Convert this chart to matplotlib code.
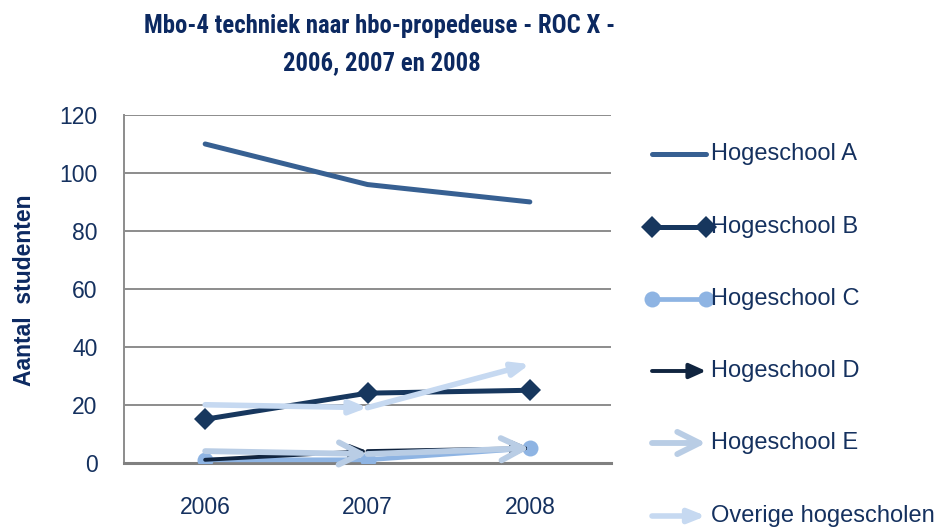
import matplotlib
matplotlib.use("Agg")
import matplotlib.pyplot as plt

# ---- data ----
years = ["2006", "2007", "2008"]
series_names = ["Hogeschool A", "Hogeschool B", "Hogeschool C",
                "Hogeschool D", "Hogeschool E", "Overige hogescholen"]
hs_a = [110, 96, 90]
hs_b = [15, 24, 25]
hs_c = [1, 1, 5]
hs_d = [1, 4, 5]
hs_e = [4, 3, 5]
overig = [20, 19, 34]
yticks = [0, 20, 40, 60, 80, 100, 120]

title1 = "Mbo-4 techniek naar hbo-propedeuse - ROC X -"
title2 = "2006, 2007 en 2008"
ylabel = "Aantal  studenten"

# ---- style ----
c_a = "#376092"
c_b = "#17375E"
c_c = "#8EB4E3"
c_d = "#10243F"
c_e = "#B9CDE5"
c_o = "#C6D9F1"
txt = "#15315F"
title_col = "#0C2961"
grid = "#8C8C8C"

plt.rcParams['font.family'] = ['Liberation Sans', 'DejaVu Sans']
title_family = ['Roboto Condensed', 'Barlow Condensed', 'DejaVu Sans']

W, H = 944, 530
fig = plt.figure(figsize=(W / 100, H / 100), dpi=100)
ax = fig.add_axes([124 / W, 1 - 462.7 / H, (611 - 124) / W, (462.7 - 115) / H])

x = list(range(len(years)))

lw_a, lw_b, lw_c, lw_d, lw_e, lw_o = 3.6, 3.6, 3.4, 2.8, 4.2, 4.0
d_style = "-|>,head_length=10,head_width=4.5"
e_style = "->,head_length=16,head_width=8"
o_style = "-|>,head_length=10,head_width=4"

ax.plot(x, hs_a, color=c_a, lw=lw_a, solid_capstyle='round', zorder=3)
ax.plot(x, hs_b, color=c_b, lw=lw_b, marker='D', markersize=11,
        markeredgewidth=0, zorder=4)
ax.plot(x, hs_c, color=c_c, lw=lw_c, marker='o', markersize=11.5,
        markeredgewidth=0, zorder=5)


def arrow_series(vals, color, lw, style, z):
    for i in range(len(vals) - 1):
        ax.annotate("", xy=(x[i + 1], vals[i + 1]), xytext=(x[i], vals[i]),
                    xycoords='data', textcoords='data',
                    arrowprops=dict(arrowstyle=style, color=color, lw=lw,
                                    shrinkA=0, shrinkB=0, mutation_scale=1,
                                    capstyle='round', joinstyle='round'),
                    zorder=z, annotation_clip=False)


arrow_series(hs_d, c_d, lw_d, d_style, 6)
arrow_series(hs_e, c_e, lw_e, e_style, 7)
arrow_series(overig, c_o, lw_o, o_style, 8)

ax.set_xlim(-0.5, len(years) - 0.5)
ax.set_ylim(0, 120)
ax.set_yticks(yticks)
ax.set_xticks(x)
ax.set_xticklabels(years)
ax.grid(axis='y', color=grid, lw=1.4, zorder=0)
ax.set_axisbelow(True)
for s in ['top', 'right']:
    ax.spines[s].set_visible(False)
ax.spines['left'].set_color(grid)
ax.spines['left'].set_linewidth(1.4)
ax.spines['bottom'].set_color("#808080")
ax.spines['bottom'].set_linewidth(2.2)
ax.tick_params(axis='both', length=0, labelsize=16.5, labelcolor=txt)
ax.tick_params(axis='y', pad=19)
ax.tick_params(axis='x', pad=24)

# titles
fig.text(380 / W, 1 - 26 / H, title1, ha='center', va='center',
         fontsize=17.8, fontweight='bold', color=title_col, family=title_family)
fig.text(382 / W, 1 - 63 / H, title2, ha='center', va='center',
         fontsize=17.8, fontweight='bold', color=title_col, family=title_family)
fig.text(25 / W, 1 - 290 / H, ylabel, ha='center', va='center',
         rotation=90, fontsize=16.5, fontweight='bold', color=title_col)

# ---- legend (manual) ----
la = fig.add_axes([0, 0, 1, 1], facecolor='none')
la.set_xlim(0, W)
la.set_ylim(H, 0)
la.axis('off')
leg_y = [154, 227, 299, 371, 443, 516]
x0, x1 = 652, 706


def leg_arrow(yy, color, lw, style):
    la.annotate("", xy=(x1, yy), xytext=(x0, yy),
                arrowprops=dict(arrowstyle=style, color=color, lw=lw,
                                shrinkA=0, shrinkB=0, mutation_scale=1,
                                capstyle='round', joinstyle='round'))


la.plot([x0, x1], [leg_y[0]] * 2, color=c_a, lw=lw_a, solid_capstyle='round')
la.plot([x0, x1], [leg_y[1]] * 2, color=c_b, lw=lw_b, marker='D',
        markersize=11, markeredgewidth=0)
la.plot([x0, x1], [leg_y[2]] * 2, color=c_c, lw=lw_c, marker='o',
        markersize=11.5, markeredgewidth=0)
leg_arrow(leg_y[3], c_d, lw_d, d_style)
leg_arrow(leg_y[4], c_e, lw_e, e_style)
leg_arrow(leg_y[5], c_o, lw_o, o_style)
for yy, name in zip(leg_y, series_names):
    la.text(711, yy, name, ha='left', va='center', fontsize=17, color=txt)

fig.savefig("out.png", dpi=100)
